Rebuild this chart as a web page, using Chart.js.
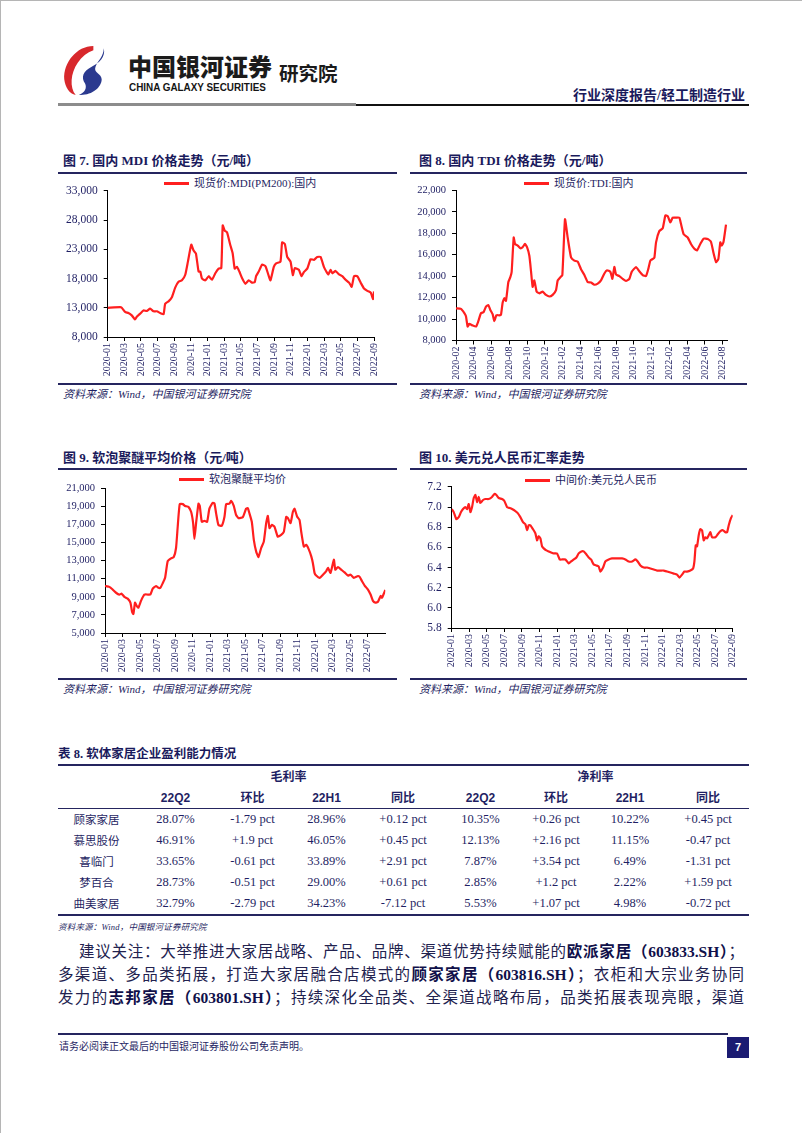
<!DOCTYPE html>
<html lang="zh-CN">
<head>
<meta charset="utf-8">
<title>行业深度报告/轻工制造行业</title>
<script src="https://cdn.jsdelivr.net/npm/chart.js@4.4.1/dist/chart.umd.min.js"></script>
<style>
body { margin: 0; background: #fff; }
#page { position: relative; width: 802px; height: 1133px; overflow: hidden; box-sizing: border-box; border-top: 1px solid #b5b5b5; border-left: 1px solid #b5b5b5;
  font-family: "Liberation Serif", "Noto Sans CJK SC", serif; color: #1f1f63; }
.abs { position: absolute; white-space: nowrap; line-height: 1; }
.figtitle { font-size: 13px; font-weight: bold; color: #1a1a5c; }
.rule { position: absolute; background: #25255f; }
.src { font-size: 11px; font-style: italic; letter-spacing: 0; color: #1f1f63; }
.legend { font-size: 11px; color: #1f1f63; display: flex; align-items: center; }
.legend span { display: inline-block; width: 25px; height: 2.5px; background: #ff1f1f; margin-right: 5px; }
canvas { position: absolute; }
#tabella { position: absolute; left: 57px; top: 763px; width: 691px; border-collapse: collapse; table-layout: fixed;
  border-top: 2px solid #25255f; border-bottom: 2px solid #25255f; }
#tabella td { padding: 0; text-align: center; color: #1f1f63; line-height: 1; white-space: nowrap; }
#tabella .h1 td { height: 22px; font-size: 12px; font-weight: bold; }
#tabella .h2 td { height: 20px; font-size: 12px; font-weight: bold; border-bottom: 1px solid #25255f; }
#tabella .h2 td.en { font-family: "Liberation Sans", sans-serif; }
#tabella .row td { height: 21px; font-size: 12.5px; }
#tabella .row td:first-child { font-family: "Noto Sans CJK SC", sans-serif; font-size: 11.5px; }
.para { position: absolute; font-size: 15.5px; line-height: 1; color: #22224f; text-align: justify; text-align-last: justify; }
.para b { color: #10104a; }
</style>
</head>
<body>
<div id="page">

  <!-- intestazione -->
  <svg class="abs" style="left:60px;top:43px" width="46" height="52" viewBox="0 0 44 50">
    <path d="M31 2 C15 2 2 18 3 34 C4 42 8 48 14 49 C8 42 9 28 16 18 C20 12 25 8 31 6 Z" fill="#d8282c"/>
    <path d="M41 4 C43 12 37 18 29 22 C21 26 19 32 23 38 C25 42 23 47 17 49 C29 50 39 42 39 34 C39 28 31 28 33 22 C35 16 41 12 41 4 Z" fill="#2b3a8f"/>
  </svg>
  <div class="abs" style="left:127px;top:53px;font-family:'Noto Sans CJK SC';font-size:24px;font-weight:900;color:#1b1b1b">中国银河证券</div>
  <div class="abs" style="left:128px;top:81px;font-family:'Liberation Sans';font-size:11.5px;font-weight:bold;color:#151515;transform:scaleX(0.86);transform-origin:left">CHINA GALAXY SECURITIES</div>
  <div class="abs" style="left:278px;top:62px;font-family:'Noto Sans CJK SC';font-size:19.5px;font-weight:bold;color:#1b1b1b">研究院</div>
  <div class="abs" style="right:57px;top:88px;font-size:14px;font-weight:bold;color:#1a1a5c">行业深度报告/轻工制造行业</div>
  <div class="rule" style="left:57px;top:102px;width:298px;height:3px;background:#8c8c8c"></div>
  <div class="rule" style="left:355px;top:103px;width:393px;height:1.5px;background:#111"></div>

  <!-- figura 7 e 8 -->
  <div class="abs figtitle" style="left:62px;top:153px">图 7. 国内 MDI 价格走势（元/吨）</div>
  <div class="abs figtitle" style="left:418px;top:153px">图 8. 国内 TDI 价格走势（元/吨）</div>
  <div class="rule" style="left:57px;top:171px;width:339px;height:2px"></div>
  <div class="rule" style="left:409px;top:171px;width:337px;height:2px"></div>
  <div class="abs legend" style="left:163px;top:177px"><span></span>现货价:MDI(PM200):国内</div>
  <div class="abs legend" style="left:523px;top:177px"><span></span>现货价:TDI:国内</div>
  <canvas id="graficoMDI" width="330" height="205" style="left:57px;top:177px"></canvas>
  <canvas id="graficoTDI" width="335" height="205" style="left:407px;top:177px"></canvas>
  <div class="rule" style="left:57px;top:382px;width:339px;height:1.5px"></div>
  <div class="rule" style="left:409px;top:382px;width:337px;height:1.5px"></div>
  <div class="abs src" style="left:62px;top:388px">资料来源：Wind，中国银河证券研究院</div>
  <div class="abs src" style="left:418px;top:388px">资料来源：Wind，中国银河证券研究院</div>

  <!-- figura 9 e 10 -->
  <div class="abs figtitle" style="left:62px;top:450px">图 9. 软泡聚醚平均价格（元/吨）</div>
  <div class="abs figtitle" style="left:418px;top:450px">图 10. 美元兑人民币汇率走势</div>
  <div class="rule" style="left:57px;top:467px;width:339px;height:2px"></div>
  <div class="rule" style="left:409px;top:467px;width:337px;height:2px"></div>
  <div class="abs legend" style="left:178px;top:473px"><span></span>软泡聚醚平均价</div>
  <div class="abs legend" style="left:524px;top:474px"><span></span>中间价:美元兑人民币</div>
  <canvas id="graficoPoliolo" width="340" height="200" style="left:57px;top:475px"></canvas>
  <canvas id="graficoCambio" width="340" height="202" style="left:407px;top:473px"></canvas>
  <div class="rule" style="left:57px;top:677px;width:339px;height:1.5px"></div>
  <div class="rule" style="left:409px;top:677px;width:337px;height:1.5px"></div>
  <div class="abs src" style="left:62px;top:683px">资料来源：Wind，中国银河证券研究院</div>
  <div class="abs src" style="left:418px;top:683px">资料来源：Wind，中国银河证券研究院</div>

  <!-- tabella 8 -->
  <div class="abs figtitle" style="left:57px;top:747px;font-size:12.5px">表 8. 软体家居企业盈利能力情况</div>
  <table id="tabella">
    <colgroup>
      <col style="width:77px"><col style="width:81px"><col style="width:73px"><col style="width:75px"><col style="width:78px">
      <col style="width:77px"><col style="width:74px"><col style="width:74px"><col style="width:82px">
    </colgroup>
    <tr class="h1"><td></td><td colspan="4">毛利率</td><td colspan="4">净利率</td></tr>
    <tr class="h2"><td></td><td class="en">22Q2</td><td>环比</td><td class="en">22H1</td><td>同比</td><td class="en">22Q2</td><td>环比</td><td class="en">22H1</td><td>同比</td></tr>
    <tr class="row"><td>顾家家居</td><td>28.07%</td><td>-1.79 pct</td><td>28.96%</td><td>+0.12 pct</td><td>10.35%</td><td>+0.26 pct</td><td>10.22%</td><td>+0.45 pct</td></tr>
    <tr class="row"><td>慕思股份</td><td>46.91%</td><td>+1.9 pct</td><td>46.05%</td><td>+0.45 pct</td><td>12.13%</td><td>+2.16 pct</td><td>11.15%</td><td>-0.47 pct</td></tr>
    <tr class="row"><td>喜临门</td><td>33.65%</td><td>-0.61 pct</td><td>33.89%</td><td>+2.91 pct</td><td>7.87%</td><td>+3.54 pct</td><td>6.49%</td><td>-1.31 pct</td></tr>
    <tr class="row"><td>梦百合</td><td>28.73%</td><td>-0.51 pct</td><td>29.00%</td><td>+0.61 pct</td><td>2.85%</td><td>+1.2 pct</td><td>2.22%</td><td>+1.59 pct</td></tr>
    <tr class="row"><td>曲美家居</td><td>32.79%</td><td>-2.79 pct</td><td>34.23%</td><td>-7.12 pct</td><td>5.53%</td><td>+1.07 pct</td><td>4.98%</td><td>-0.72 pct</td></tr>
  </table>
  <div class="abs src" style="left:57px;top:922px;font-size:8.5px;letter-spacing:0.2px">资料来源：Wind，中国银河证券研究院</div>

  <!-- testo -->
  <div class="para" style="left:78px;top:943px;width:665px">建议关注：大举推进大家居战略、产品、品牌、渠道优势持续赋能的<b>欧派家居（603833.SH）</b>；</div>
  <div class="para" style="left:57px;top:966px;width:686px">多渠道、多品类拓展，打造大家居融合店模式的<b>顾家家居（603816.SH）</b>；衣柜和大宗业务协同</div>
  <div class="para" style="left:57px;top:989px;width:686px">发力的<b>志邦家居（603801.SH）</b>；持续深化全品类、全渠道战略布局，品类拓展表现亮眼，渠道</div>

  <!-- piè di pagina -->
  <div class="rule" style="left:57px;top:1032px;width:670px;height:2px"></div>
  <div class="abs" style="left:58px;top:1041px;font-size:10px;color:#1f1f63">请务必阅读正文最后的中国银河证券股份公司免责声明。</div>
  <div class="abs" style="left:726px;top:1036px;width:22px;height:21px;background:#1b1b72;color:#fff;font-family:'Liberation Sans';font-size:11px;font-weight:bold;line-height:21px;text-align:center">7</div>
</div>

<script>
// Etichette dell'asse x (ogni due mesi)
var etichetteMDI = ['2020-01', '2020-03', '2020-05', '2020-07', '2020-09', '2020-11', '2021-01', '2021-03', '2021-05',
  '2021-07', '2021-09', '2021-11', '2022-01', '2022-03', '2022-05', '2022-07', '2022-09'];
var etichetteTDI = ['2020-02', '2020-04', '2020-06', '2020-08', '2020-10', '2020-12', '2021-02', '2021-04', '2021-06',
  '2021-08', '2021-10', '2021-12', '2022-02', '2022-04', '2022-06', '2022-08'];
var etichettePoliolo = ['2020-01', '2020-03', '2020-05', '2020-07', '2020-09', '2020-11', '2021-01', '2021-03', '2021-05',
  '2021-07', '2021-09', '2021-11', '2022-01', '2022-03', '2022-05', '2022-07'];
var etichetteCambio = etichetteMDI;

// Figura 7: MDI (mesi dal 2020-01, yuan/tonnellata)
var mesiMDI = [0, 1.49, 1.69, 2.09, 2.49, 2.89, 3.29, 3.49, 3.90, 4.30,
  4.70, 5.10, 5.50, 5.90, 6.31, 6.71, 6.91, 7.31, 7.71, 8.11,
  8.51, 8.92, 9.32, 9.64, 10.04, 10.32, 10.60, 10.92, 11.12, 11.33,
  11.73, 12.13, 12.53, 12.93, 13.33, 13.65, 13.82, 14.06, 14.34, 14.74,
  15.02, 15.26, 15.54, 15.82, 16.14, 16.55, 16.95, 17.35, 17.67, 17.83,
  18.15, 18.55, 18.96, 19.36, 19.56, 19.96, 20.24, 20.76, 20.96, 21.29,
  21.57, 21.97, 22.25, 22.49, 22.97, 23.29, 23.57, 23.98, 24.38, 24.78,
  25.18, 25.58, 25.98, 26.27, 26.51, 26.79, 26.99, 27.39, 27.79, 28.19,
  28.59, 29.00, 29.32, 29.60, 30.00, 30.40, 30.80, 31.20, 31.61, 31.89,
  32.0];
var prezziMDI = [13000, 13100, 13000, 12300, 12100, 11700, 11000, 11450, 12000, 12550,
  12450, 12850, 12400, 12400, 12100, 11900, 13700, 14100, 14800, 16450,
  17450, 17700, 18650, 20900, 23800, 22800, 22300, 19200, 19200, 18000,
  17700, 18400, 17800, 18900, 19700, 19800, 27100, 26200, 25900, 23700,
  22300, 19700, 20000, 19200, 18100, 17100, 17700, 17300, 17400, 18400,
  19200, 20400, 20100, 18400, 17700, 20000, 20600, 20900, 24200, 23900,
  21700, 20900, 18600, 19800, 19500, 18400, 19100, 19700, 21300, 21200,
  21700, 21700, 20000, 19200, 18700, 19500, 18900, 19300, 18700, 18400,
  17800, 17300, 16600, 18400, 18400, 17300, 16300, 15900, 15600, 14500,
  15800];

// Figura 8: TDI
var mesiTDI = [1.00, 1.56, 1.94, 2.12, 2.31, 2.50, 2.87, 3.25, 3.51, 3.81,
  4.11, 4.37, 4.64, 4.86, 5.12, 5.31, 5.54, 5.87, 6.06, 6.25,
  6.44, 6.62, 6.89, 7.11, 7.26, 7.49, 7.64, 7.94, 8.24, 8.50,
  8.76, 8.99, 9.25, 9.44, 9.62, 9.81, 10.07, 10.37, 10.75, 11.12,
  11.50, 11.87, 12.25, 12.44, 12.74, 12.96, 13.26, 13.56, 13.94, 14.31,
  14.69, 15.06, 15.44, 15.81, 16.19, 16.56, 16.94, 17.31, 17.69, 17.99,
  18.36, 18.59, 18.81, 19.00, 19.37, 19.75, 20.12, 20.50, 20.76, 21.25,
  21.62, 22.00, 22.37, 22.64, 22.86, 23.12, 23.31, 23.50, 23.87, 24.25,
  24.55, 24.81, 25.11, 25.37, 25.75, 26.12, 26.31, 26.61, 27.06, 27.43,
  27.81, 28.11, 28.48, 28.86, 29.31, 29.68, 29.98, 30.25, 30.51, 30.73,
  30.88, 31.08, 31.37];
var prezziTDI = [11000, 10950, 10550, 10250, 9300, 9550, 9400, 9300, 9800, 10550,
  10650, 11150, 11300, 10850, 10450, 9800, 10350, 10350, 10400, 11550,
  11950, 11700, 13450, 13900, 14400, 17600, 17000, 16850, 16600, 16700,
  17000, 16700, 15900, 14450, 13000, 13600, 12550, 12400, 12550, 12250,
  12100, 12250, 12700, 13600, 13900, 14100, 19300, 17600, 15750, 15450,
  15350, 14650, 14100, 13450, 13400, 13200, 13300, 13600, 14250, 14550,
  14400, 13750, 14850, 14150, 14000, 13750, 13550, 13750, 14400, 14850,
  14450, 14100, 14000, 14700, 15450, 15600, 15700, 17150, 18200, 18450,
  19650, 19600, 19000, 19450, 19450, 19450, 18850, 17900, 17600, 17000,
  16550, 16400, 17000, 17500, 17450, 17200, 16100, 15300, 15600, 17150,
  16850, 17150, 18800];

// Figura 9: polioli per schiuma flessibile
var mesiPoliolo = [0, 0.50, 0.88, 1.26, 1.64, 1.90, 2.21, 2.59, 2.90, 3.09,
  3.24, 3.43, 3.62, 3.81, 4.11, 4.50, 4.88, 5.18, 5.45, 5.83,
  6.10, 6.32, 6.59, 6.86, 7.16, 7.54, 7.85, 8.11, 8.30, 8.53,
  8.88, 9.14, 9.52, 9.83, 10.06, 10.21, 10.40, 10.67, 10.82, 11.05,
  11.35, 11.66, 11.92, 12.30, 12.50, 12.69, 12.95, 13.33, 13.64, 13.83,
  14.21, 14.40, 14.70, 14.97, 15.24, 15.73, 16.11, 16.30, 16.50, 16.76,
  16.99, 17.26, 17.52, 17.83, 18.13, 18.40, 18.59, 18.78, 19.05, 19.35,
  19.73, 20.11, 20.42, 20.69, 20.88, 21.18, 21.45, 21.64, 21.94, 22.21,
  22.40, 22.70, 22.97, 23.24, 23.54, 23.73, 23.92, 24.11, 24.50, 24.88,
  25.26, 25.45, 25.75, 26.13, 26.29, 26.59, 26.97, 27.35, 27.73, 28.04,
  28.42, 28.88, 29.07, 29.33, 29.64, 30.02, 30.32, 30.59, 30.86, 31.16,
  31.47, 31.62, 31.85, 32.00];
var prezziPoliolo = [10200, 10100, 9800, 9450, 9250, 9350, 9000, 8800, 8350, 7350,
  7100, 8350, 8000, 7800, 8550, 9250, 9250, 9250, 9900, 10200,
  10000, 10000, 10500, 11100, 12950, 13250, 13400, 14400, 16750, 19250,
  19250, 19050, 18950, 18400, 17150, 15400, 17150, 19300, 19050, 17300,
  17400, 17300, 18750, 19400, 19300, 18200, 16950, 16850, 17850, 19250,
  19300, 19600, 19050, 18050, 17700, 17800, 18750, 18800, 18200, 17300,
  15300, 14000, 13400, 14400, 15100, 17150, 17950, 16600, 16950, 16750,
  15650, 15850, 16200, 17850, 17700, 17150, 18400, 18750, 17850, 17500,
  16200, 14550, 14750, 14300, 13500, 12750, 11650, 11350, 11100, 11450,
  11850, 12200, 11650, 13100, 12000, 12300, 12000, 11700, 11350, 11450,
  11100, 11300, 11200, 10750, 10250, 9800, 9250, 8550, 8350, 8450,
  9100, 8900, 9400, 9750];

// Figura 10: cambio USD/CNY (parità centrale)
var mesiCambio = [0, 0.23, 0.53, 0.80, 1.06, 1.29, 1.56, 1.75, 1.94, 2.13,
  2.32, 2.51, 2.70, 2.89, 3.08, 3.26, 3.57, 3.83, 4.21, 4.59,
  4.86, 5.09, 5.35, 5.73, 6.00, 6.30, 6.61, 6.87, 7.25, 7.52,
  7.82, 8.12, 8.39, 8.58, 8.77, 8.96, 9.26, 9.53, 9.72, 9.91,
  10.10, 10.29, 10.48, 10.78, 11.05, 11.31, 11.62, 12.00, 12.30, 12.57,
  12.95, 13.33, 13.59, 13.90, 14.20, 14.46, 14.77, 15.03, 15.34, 15.60,
  15.87, 16.17, 16.48, 16.74, 16.93, 17.24, 17.50, 17.88, 18.26, 18.64,
  19.02, 19.40, 19.78, 20.16, 20.54, 20.92, 21.18, 21.49, 21.87, 22.25,
  22.63, 23.01, 23.39, 23.77, 24.15, 24.53, 24.91, 25.28, 25.66, 25.93,
  26.23, 26.50, 26.80, 27.18, 27.49, 27.64, 27.79, 27.94, 28.13, 28.32,
  28.51, 28.70, 28.89, 29.08, 29.27, 29.46, 29.65, 30.03, 30.30, 30.60,
  30.90, 31.17, 31.36, 31.55, 31.80, 32.00];
var tassiCambio = [6.98, 6.95, 6.88, 6.90, 6.95, 6.98, 7.00, 6.98, 7.03, 6.95,
  7.00, 7.09, 7.12, 7.05, 7.10, 7.04, 7.07, 7.08, 7.08, 7.10,
  7.13, 7.12, 7.09, 7.08, 7.06, 7.00, 6.99, 6.98, 6.96, 6.94,
  6.90, 6.85, 6.83, 6.77, 6.82, 6.82, 6.78, 6.74, 6.67, 6.71,
  6.69, 6.61, 6.59, 6.57, 6.56, 6.55, 6.54, 6.54, 6.48, 6.48,
  6.48, 6.44, 6.46, 6.48, 6.50, 6.54, 6.56, 6.56, 6.53, 6.50,
  6.48, 6.43, 6.42, 6.41, 6.36, 6.40, 6.46, 6.48, 6.49, 6.49,
  6.49, 6.49, 6.48, 6.46, 6.46, 6.48, 6.46, 6.42, 6.40, 6.40,
  6.39, 6.38, 6.37, 6.37, 6.37, 6.36, 6.35, 6.34, 6.33, 6.30,
  6.33, 6.36, 6.36, 6.37, 6.39, 6.46, 6.62, 6.61, 6.72, 6.78,
  6.77, 6.67, 6.70, 6.69, 6.72, 6.75, 6.70, 6.70, 6.73, 6.76,
  6.77, 6.75, 6.75, 6.82, 6.89, 6.92];

var coloreTesto = '#1f1f63';
var coloreLinea = '#ff1f1f';

// Crea un grafico a linea con area di disegno fissa dentro il canvas
function creaGrafico(idCanvas, mesi, valori, etichette, primoMese, ultimoMese, yMin, yMax, yPasso, decimali, bordi, fontY) {
  var punti = mesi.map(function (m, i) { return { x: m, y: valori[i] }; });

  return new Chart(document.getElementById(idCanvas), {
    type: 'line',
    data: {
      datasets: [{
        data: punti,
        borderColor: coloreLinea,
        borderWidth: 2.2,
        pointRadius: 0,
        tension: 0.15
      }]
    },
    options: {
      responsive: false,
      animation: false,
      layout: { padding: { top: bordi.top, right: bordi.right, left: 0, bottom: 0 } },
      plugins: { legend: { display: false }, tooltip: { enabled: false } },
      scales: {
        x: {
          type: 'linear',
          min: primoMese,
          max: ultimoMese,
          afterBuildTicks: function (scale) {
            scale.ticks = etichette.map(function (e, i) { return { value: primoMese + 2 * i }; });
          },
          afterFit: function (scale) { scale.height = bordi.bottom; },
          grid: { drawOnChartArea: false, tickLength: 4, color: '#000' },
          border: { color: '#000', width: 1 },
          ticks: {
            autoSkip: false,
            minRotation: 90,
            maxRotation: 90,
            padding: 2,
            color: coloreTesto,
            font: { family: 'Liberation Serif', size: 10 },
            callback: function (value) {
              return etichette[Math.round((value - primoMese) / 2)];
            }
          }
        },
        y: {
          min: yMin,
          max: yMax,
          afterFit: function (scale) { scale.width = bordi.left; },
          grid: { drawOnChartArea: false, tickLength: 4, color: '#000' },
          border: { color: '#000', width: 1 },
          ticks: {
            stepSize: yPasso,
            padding: 6,
            color: coloreTesto,
            font: { family: 'Liberation Serif', size: fontY },
            callback: function (value) {
              return decimali ? value.toFixed(decimali) : value.toLocaleString('en-US');
            }
          }
        }
      }
    }
  });
}

var grafico7 = creaGrafico('graficoMDI', mesiMDI, prezziMDI, etichetteMDI, 0, 32, 8000, 33000, 5000, 0,
  { left: 49.7, top: 10.5, right: 14, bottom: 46 }, 11.5);
var grafico8 = creaGrafico('graficoTDI', mesiTDI, prezziTDI, etichetteTDI, 1, 31.56, 8000, 22000, 2000, 0,
  { left: 48, top: 10.3, right: 15.3, bottom: 42.5 }, 10.5);
var grafico9 = creaGrafico('graficoPoliolo', mesiPoliolo, prezziPoliolo, etichettePoliolo, 0, 32, 5000, 21000, 2000, 0,
  { left: 47, top: 11, right: 12.7, bottom: 43 }, 10.5);
var grafico10 = creaGrafico('graficoCambio', mesiCambio, tassiCambio, etichetteCambio, 0, 32, 5.8, 7.2, 0.2, 1,
  { left: 43.7, top: 10.3, right: 15.3, bottom: 48 }, 11.5);
</script>
</body>
</html>
